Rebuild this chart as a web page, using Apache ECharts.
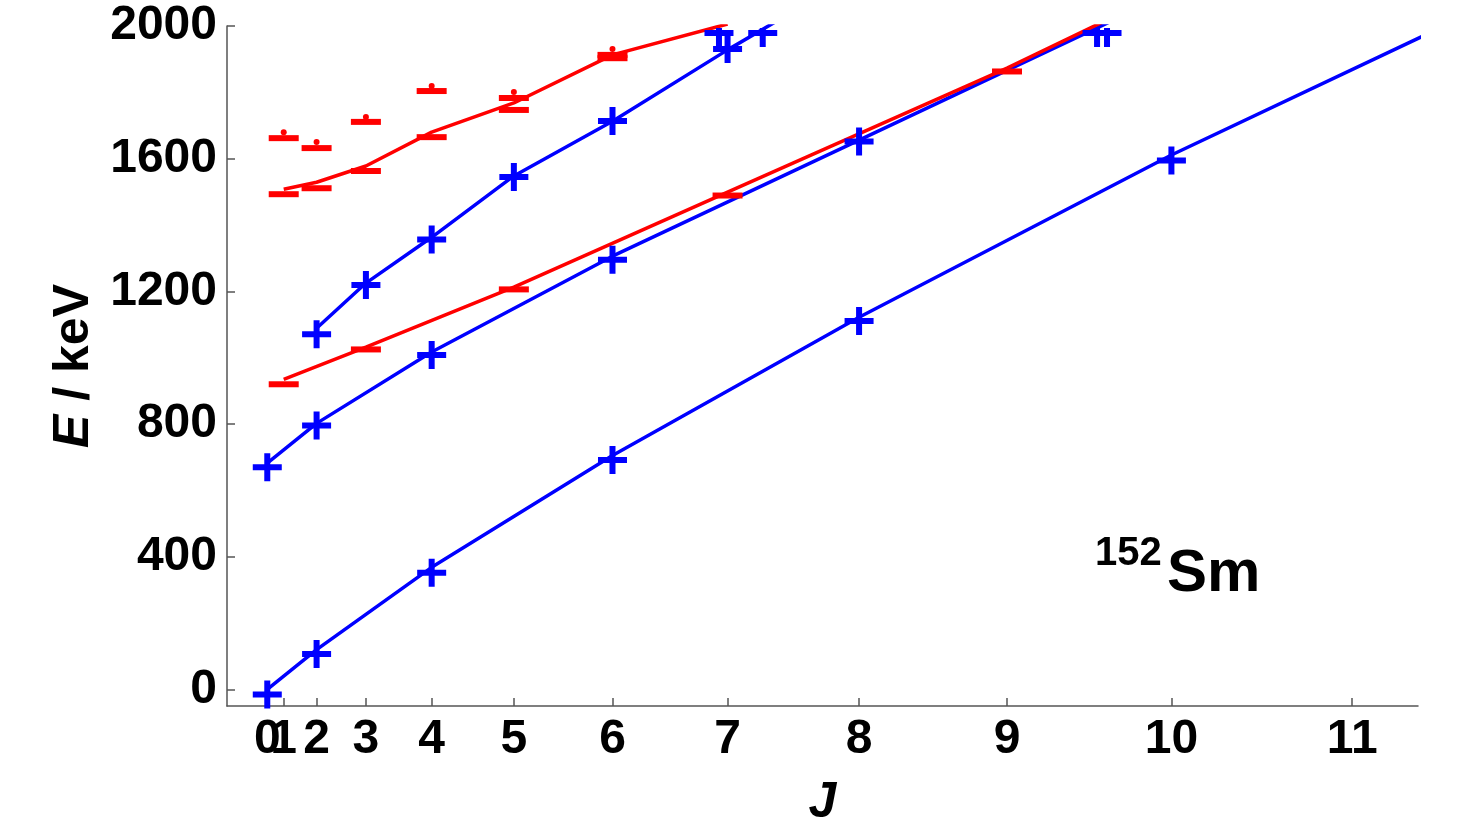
<!DOCTYPE html>
<html>
<head>
<meta charset="utf-8">
<title>152Sm bands</title>
<script src="https://cdn.jsdelivr.net/npm/echarts@6/dist/echarts.min.js"></script>
<style>
  html, body { margin: 0; padding: 0; background: #fff; }
  #chart { width: 1459px; height: 834px; }
</style>
</head>
<body>
<div id="chart"></div>
<script>
var jTicks = [0, 1, 2, 3, 4, 5, 6, 7, 8, 9, 10, 11];
var eTicks = [0, 400, 800, 1200, 1600, 2000];

// ground band
var groundJ = [0, 2, 4, 6, 8, 10];
var groundExp = [0, 121.8, 366.5, 706.9, 1125.4, 1609.3];
var groundThJ = [0, 2, 4, 6, 8, 10, 12];
var groundTh = [0, 120, 368, 705, 1122, 1611, 2150];

// beta band
var betaJ = [0, 2, 4, 6, 8];
var betaExp = [684.7, 810.5, 1022.9, 1310.5, 1666.5];
var betaThJ = [0, 2, 4, 6, 8, 10];
var betaTh = [682, 802, 1017, 1306, 1656, 2100];

// gamma band
var gammaJ = [2, 3, 4, 5, 6, 7];
var gammaExp = [1085.8, 1233.9, 1371.7, 1559.6, 1728.3, 1946];
var gammaThJ = [2, 3, 4, 5, 6, 7, 8];
var gammaTh = [1089, 1225, 1363, 1548, 1713, 1928, 2160];

// negative parity K=0 band
var negJ = [1, 3, 5, 7, 9];
var negExp = [935, 1040, 1221, 1504, 1878];
var negThJ = [1, 3, 5, 7, 9, 11];
var negTh = [935, 1032, 1213, 1499, 1873, 2375];

// upper negative parity levels
var upJ = [1, 2, 3, 4, 5, 6];
var upExpLow = [1508, 1526, 1578, 1680, 1762, 1918];
var upExpHigh = [1677, 1647, 1726, 1819, 1798, 1928];
var upDots = [1680, 1650, 1726, 1819, 1801, 1931];
var upThJ = [1, 2, 3, 4, 5, 6, 7];
var upTh = [1508, 1529, 1578, 1680, 1768, 1913, 2006];

// markers sitting on the top edge
var edgeJ = [6.93, 7.28, 9.56, 9.62];
var edgeE = [2000, 2000, 2000, 2000];

var BLUE = '#0000ff';
var RED = '#ff0000';
var FONT = "'Liberation Sans', Arial, sans-serif";
var CROSS = 'path://M0,11L29,11L29,17L0,17ZM11.5,0L17.5,0L17.5,28L11.5,28Z';
var EDGE_CROSS = 'path://M0,2L29,2L29,8L0,8ZM11.5,0L17.5,0L17.5,19L11.5,19Z';
var X_MIN = -4.9, X_MAX = 140;

function jj(j) { return j * (j + 1); }
function jOf(v) { return String(Math.round((Math.sqrt(1 + 4 * v) - 1) / 2)); }
function pts(js, es) {
    var out = [];
    for (var i = 0; i < js.length; i++) {
        out.push([jj(js[i]), es[i]]);
    }
    return out;
}
function lineSeries(js, es, color) {
    return {
        type: 'line',
        data: pts(js, es),
        showSymbol: false,
        symbol: 'none',
        clip: true,
        lineStyle: { color: color, width: 3.5 },
        z: 2
    };
}
function crossSeries(js, es) {
    return {
        type: 'scatter',
        data: pts(js, es),
        symbol: CROSS,
        symbolSize: [29, 28],
        symbolOffset: [0, 5],
        itemStyle: { color: BLUE, opacity: 1 },
        z: 3
    };
}
function dashSeries(js, es) {
    return {
        type: 'scatter',
        data: pts(js, es),
        symbol: 'rect',
        symbolSize: [30, 6],
        symbolOffset: [0, 5],
        itemStyle: { color: RED, opacity: 1 },
        z: 3
    };
}

// the "1" label sits on top of "0"; it goes on a second, invisible axis so it is not dropped
var labelStyle = { margin: 10, hideOverlap: false, showMinLabel: true, fontFamily: FONT, fontSize: 48, fontWeight: 'bold', color: '#000', formatter: jOf };
var mainLabels = jTicks.filter(function (j) { return j !== 1; }).map(jj);

var chart = echarts.init(document.getElementById('chart'));
var option = {
    animation: false,
    backgroundColor: '#fff',
    grid: { left: 227, right: 41, top: 26, bottom: 128 },
    xAxis: [{
        type: 'value',
        min: X_MIN,
        max: X_MAX,
        name: 'J',
        nameLocation: 'middle',
        nameGap: 72,
        nameTextStyle: { fontFamily: FONT, fontSize: 50, fontWeight: 'bold', fontStyle: 'italic', color: '#000' },
        axisLine: { onZero: false, lineStyle: { color: '#555', width: 1.5 } },
        axisTick: { inside: true, length: 8, lineStyle: { color: '#555', width: 1.5 }, customValues: jTicks.map(jj) },
        splitLine: { show: false },
        axisLabel: echarts.util.extend({ customValues: mainLabels }, labelStyle)
    }, {
        type: 'value',
        position: 'bottom',
        min: X_MIN,
        max: X_MAX,
        axisLine: { show: false, onZero: false },
        axisTick: { show: false },
        splitLine: { show: false },
        axisLabel: echarts.util.extend({ customValues: [jj(1)] }, labelStyle)
    }],
    yAxis: {
        type: 'value',
        min: -50,
        max: 2000,
        name: '{i|E} / keV',
        nameLocation: 'middle',
        nameGap: 128,
        nameRotate: 90,
        nameTextStyle: {
            fontFamily: FONT, fontSize: 50, fontWeight: 'bold', color: '#000',
            rich: { i: { fontFamily: FONT, fontSize: 50, fontWeight: 'bold', fontStyle: 'italic', color: '#000' } }
        },
        axisLine: { show: true, onZero: false, lineStyle: { color: '#555', width: 1.5 } },
        axisTick: { show: true, inside: true, length: 8, lineStyle: { color: '#555', width: 1.5 }, customValues: eTicks },
        splitLine: { show: false },
        axisLabel: {
            customValues: eTicks,
            margin: 10,
            fontFamily: FONT,
            fontSize: 48,
            fontWeight: 'bold',
            color: '#000',
            formatter: function (v) { return String(v); }
        }
    },
    graphic: [
        {
            type: 'text', left: 1095, top: 534,
            style: { text: '152', font: 'bold 40px ' + FONT, fill: '#000' }
        },
        {
            type: 'text', left: 1167, top: 544,
            style: { text: 'Sm', font: 'bold 60px ' + FONT, fill: '#000' }
        }
    ],
    series: [
        lineSeries(groundThJ, groundTh, BLUE),
        lineSeries(betaThJ, betaTh, BLUE),
        lineSeries(gammaThJ, gammaTh, BLUE),
        lineSeries(negThJ, negTh, RED),
        lineSeries(upThJ, upTh, RED),
        crossSeries(groundJ, groundExp),
        crossSeries(betaJ, betaExp),
        crossSeries(gammaJ, gammaExp),
        dashSeries(negJ, negExp),
        dashSeries(upJ, upExpLow),
        dashSeries(upJ, upExpHigh),
        {
            type: 'scatter',
            data: pts(upJ, upDots),
            symbol: 'circle',
            symbolSize: 6,
            itemStyle: { color: RED, opacity: 1 },
            z: 3
        },
        {
            type: 'scatter',
            data: pts(edgeJ, edgeE),
            symbol: EDGE_CROSS,
            symbolSize: [29, 19],
            symbolOffset: [0, 11.5],
            itemStyle: { color: BLUE, opacity: 1 },
            z: 3
        }
    ]
};
chart.setOption(option);
window.addEventListener('resize', function () {
    chart.resize();
});
</script>
</body>
</html>
